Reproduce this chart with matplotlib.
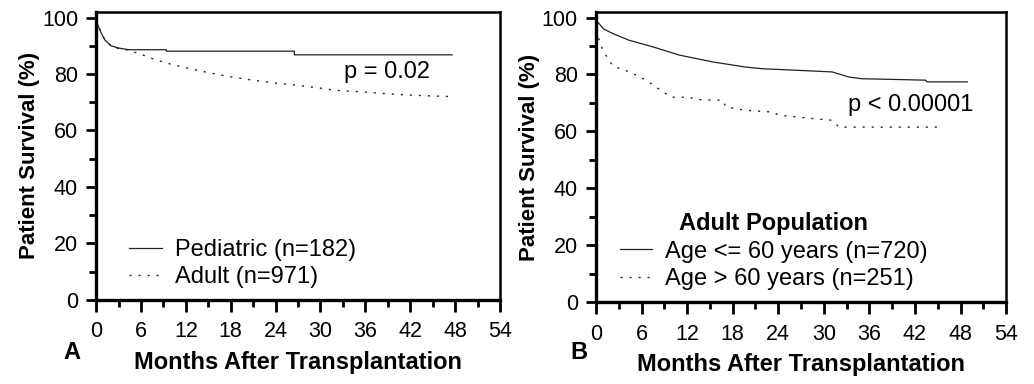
import matplotlib.pyplot as plt
from matplotlib.ticker import MultipleLocator

plt.rcParams['font.family'] = ['Liberation Sans', 'DejaVu Sans']

# Panel A : pediatric vs adult
ped_t = [0, 0.3, 0.7, 1.2, 2.0, 3.0, 4.4, 9.4, 9.4, 26.5, 26.5, 47.6]
ped_s = [99, 97, 94.5, 92, 90, 89.2, 88.6, 88.6, 88.1, 88.1, 86.8, 86.8]
adu_t = [0, 0.3, 0.7, 1.2, 2.0, 3.0, 4.4, 6, 8, 10, 12, 15, 18, 21, 24, 27, 30, 32, 36, 40, 44, 47.8]
adu_s = [99, 97, 94.5, 92, 90, 89, 88.4, 87, 85, 83.5, 82.2, 80.5, 79, 77.8, 76.8, 76, 75, 74.2, 73.6, 72.8, 72.3, 72]

# Panel B : adult population by age
young_t = [0, 0.4, 1, 2.2, 4.4, 7.5, 11, 15.4, 19.7, 22, 26.3, 31.1, 33.3, 35, 38.6, 43.4, 43.6, 48.9]
young_s = [99, 97.9, 96, 94.4, 92, 89.7, 86.8, 84.4, 82.6, 82, 81.5, 80.9, 79.1, 78.5, 78.3, 78, 77.4, 77.4]
old_t = [0, 0.3, 0.9, 2.2, 4.4, 6.6, 8.8, 10, 12.3, 13.2, 16.7, 17.1, 19.7, 23.2, 24.1, 28.5, 31.1, 32, 45.2]
old_s = [99, 93, 88.5, 83, 80.9, 78, 73.9, 72, 72, 71.2, 70.9, 68.6, 67.4, 66.8, 65.7, 64.5, 63.9, 61.5, 61.5]

labels_a = ['Pediatric (n=182)', 'Adult (n=971)']
labels_b = ['Age <= 60 years (n=720)', 'Age > 60 years (n=251)']

dotted = (0, (1.5, 5))
lc = '#222222'

fig = plt.figure(figsize=(10.34, 3.84), dpi=100)
axA = fig.add_axes([0.0929, 0.219, 0.3907, 0.750])
axB = fig.add_axes([0.5764, 0.2135, 0.3966, 0.7555])


def style(ax):
    ax.set_xlim(0, 54)
    ax.set_ylim(0, 102)
    ax.xaxis.set_major_locator(MultipleLocator(6))
    ax.xaxis.set_minor_locator(MultipleLocator(3))
    ax.yaxis.set_major_locator(MultipleLocator(20))
    ax.yaxis.set_minor_locator(MultipleLocator(10))
    ax.tick_params(axis='x', which='major', direction='out', length=8.5, width=2, labelsize=15.5, pad=7)
    ax.tick_params(axis='x', which='minor', direction='out', length=5, width=2)
    ax.tick_params(axis='y', which='major', direction='out', length=7, width=2, labelsize=15.5, pad=6)
    ax.tick_params(axis='y', which='minor', direction='out', length=5, width=2)
    for side in ['left', 'bottom']:
        ax.spines[side].set_linewidth(2.4)
    for side in ['top', 'right']:
        ax.spines[side].set_linewidth(1.8)
    ax.set_xlabel('Months After Transplantation', fontsize=17, fontweight='bold', labelpad=6)
    ax.set_ylabel('Patient Survival (%)', fontsize=16, fontweight='bold', labelpad=1)


#%% panel A
axA.plot(ped_t, ped_s, color=lc, lw=0.9, label=labels_a[0])
axA.plot(adu_t, adu_s, color=lc, lw=1.0, linestyle=dotted, label=labels_a[1])
style(axA)
axA.text(33.2, 80.6, 'p = 0.02', fontsize=17, va='center', ha='left')
axA.legend(loc='lower left', bbox_to_anchor=(0.082, 0.042), frameon=False, fontsize=17,
           handlelength=1.4, handletextpad=0.55, labelspacing=0.2, borderpad=0, borderaxespad=0)

#%% panel B
axB.plot(young_t, young_s, color=lc, lw=0.9, label=labels_b[0])
axB.plot(old_t, old_s, color=lc, lw=1.0, linestyle=dotted, label=labels_b[1])
style(axB)
axB.text(33.2, 69.1, 'p < 0.00001', fontsize=17, va='center', ha='left')
axB.legend(loc='lower left', bbox_to_anchor=(0.0585, 0.042), frameon=False, fontsize=17,
           title='Adult Population', title_fontproperties={'weight': 'bold', 'size': 17},
           handlelength=1.35, handletextpad=0.55, labelspacing=0.22, borderpad=0, borderaxespad=0)

fig.text(0.0696, 0.081, 'A', fontsize=17, fontweight='bold', ha='center', va='center')
fig.text(0.560, 0.081, 'B', fontsize=17, fontweight='bold', ha='center', va='center')

plt.savefig('out.png', dpi=100)
